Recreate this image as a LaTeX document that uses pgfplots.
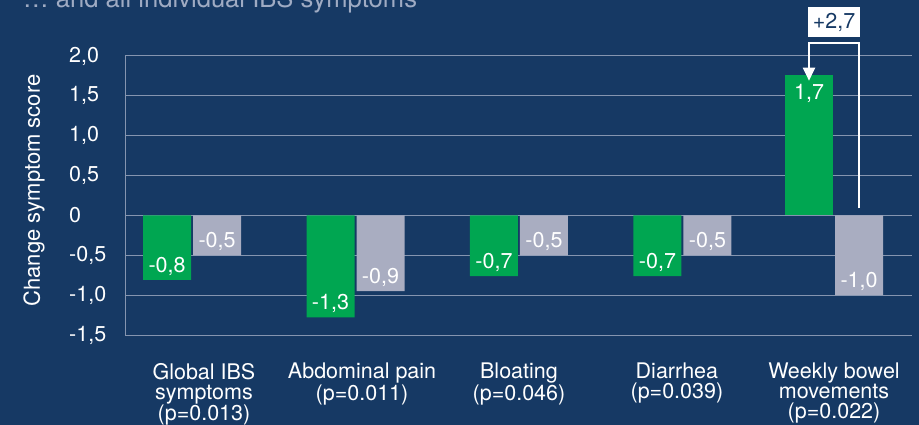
\documentclass[border=0pt]{standalone}
\usepackage{pgfplots}
\pgfplotsset{compat=1.18}
\usetikzlibrary{arrows.meta}
\usepackage{fontspec}
\setmainfont{TeX Gyre Heros}
\definecolor{bg}{HTML}{163964}
\definecolor{grn}{HTML}{00A651}
\definecolor{gry}{HTML}{A9ADC1}
\definecolor{gridc}{HTML}{8595B0}
\definecolor{titlec}{HTML}{9FABC3}
\newcommand{\fs}{\fontsize{21.5bp}{20bp}\selectfont}
\begin{document}
\begin{tikzpicture}
\fill[bg] (0,0) rectangle (919bp,425bp);
\useasboundingbox (0,0) rectangle (919bp,425bp);
\node[anchor=base west, inner sep=0, text=titlec, font=\fontsize{25.6bp}{25.6bp}\selectfont] at (23bp,417bp) {… and all individual IBS symptoms};
\node[rotate=90, inner sep=0, text=white, font=\fontsize{22bp}{22bp}\selectfont] at (34bp,234.5bp) {Change symptom score};
\begin{axis}[
  at={(125bp,90bp)}, anchor=south west, scale only axis,
  width=787bp, height=279bp,
  xmin=-0.41, xmax=4.404, ymin=-1.5, ymax=2.0,
  ytick={-1.5,-1,-0.5,0,0.5,1,1.5,2},
  yticklabels={{-1,5},{-1,0},{-0,5},{0},{0,5},{1,0},{1,5},{2,0}},
  xtick={0.073,1.04,2,2.966,3.927},
  xticklabels={{Global IBS\\symptoms\\(p=0.013)},{Abdominal pain\\(p=0.011)},{Bloating\\(p=0.046)},{Diarrhea\\(p=0.039)},{Weekly bowel\\movements\\(p=0.022)}},
  xticklabel style={align=center, anchor=north, inner sep=0pt, yshift=-28bp, font=\fs, text=white},
  yticklabel style={anchor=west, inner sep=0pt, xshift=-56bp, font=\fs, text=white},
  major tick length=0pt,
  ymajorgrids, grid style={gridc, line width=1bp},
  axis x line*=bottom, axis y line*=left,
  axis line style={gridc, line width=1bp, -},
  clip=false,
  ybar, bar width=48bp,
]
\addplot[ybar, fill=grn, draw=none, bar shift=-25bp, nodes near coords, point meta=explicit symbolic,
  every node near coord/.append style={anchor=base, yshift=7.5bp, text=white, font=\fs, inner sep=0pt}]
  table[meta=l] {
x y l
0 -0.81 -0,8
1 -1.28 -1,3
2 -0.76 -0,7
3 -0.76 -0,7
};
\addplot[ybar, fill=grn, draw=none, bar shift=-25bp, nodes near coords, point meta=explicit symbolic,
  every node near coord/.append style={anchor=base, yshift=-24bp, text=white, font=\fs, inner sep=0pt}]
  table[meta=l] {
x y l
3.927 1.76 1,7
};
\addplot[ybar, fill=gry, draw=none, bar shift=25bp, nodes near coords, point meta=explicit symbolic,
  every node near coord/.append style={anchor=base, yshift=7.5bp, text=white, font=\fs, inner sep=0pt}]
  table[meta=l] {
x y l
0 -0.50 -0,5
1 -0.95 -0,9
2 -0.50 -0,5
3 -0.50 -0,5
3.927 -1.00 -1,0
};
\draw[white, line width=2bp, -{Triangle[width=12bp,length=13bp]}]
  (axis cs:4.080,0.088) |- (axis cs:3.774,2.158) -- (axis cs:3.774,1.69);
\node[fill=white, text=bg, font=\fs, minimum width=52bp, minimum height=30bp, inner sep=0pt]
  at (axis cs:3.927,2.425) {+2,7};
\end{axis}
\end{tikzpicture}
\end{document}
